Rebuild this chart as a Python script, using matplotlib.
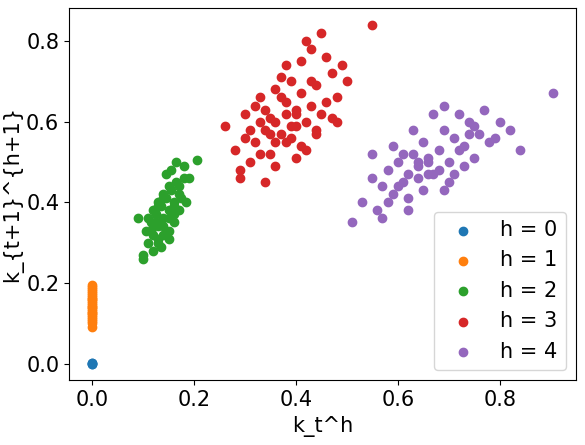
import matplotlib
matplotlib.use("Agg")
import matplotlib.pyplot as plt

x0 = [0.0, 0.0, 0.0, 0.0]
y0 = [0.0, 0.001, 0.002, 0.0]

x1 = [0.0]*24
y1 = [0.09, 0.10, 0.105, 0.11, 0.115, 0.12, 0.125, 0.13, 0.135, 0.14, 0.145, 0.15,
      0.155, 0.16, 0.165, 0.17, 0.175, 0.18, 0.185, 0.19, 0.195, 0.125, 0.14, 0.16]

x2 = [0.10, 0.11, 0.105, 0.12, 0.115, 0.13, 0.125, 0.14, 0.135, 0.15, 0.145, 0.16, 0.155, 0.17,
      0.165, 0.18, 0.12, 0.13, 0.14, 0.15, 0.16, 0.17, 0.13, 0.14, 0.15, 0.11, 0.12, 0.13, 0.14,
      0.15, 0.16, 0.17, 0.18, 0.205, 0.09, 0.10, 0.125, 0.145, 0.155, 0.165, 0.175, 0.135, 0.115,
      0.16, 0.15, 0.14, 0.13, 0.12, 0.19, 0.185]
y2 = [0.27, 0.30, 0.33, 0.32, 0.35, 0.34, 0.37, 0.36, 0.39, 0.38, 0.41, 0.40, 0.43, 0.42,
      0.45, 0.46, 0.28, 0.30, 0.32, 0.33, 0.35, 0.38, 0.40, 0.42, 0.44, 0.36, 0.38, 0.31, 0.34,
      0.36, 0.39, 0.44, 0.49, 0.505, 0.36, 0.26, 0.35, 0.47, 0.48, 0.50, 0.41, 0.29, 0.33,
      0.37, 0.31, 0.41, 0.39, 0.34, 0.46, 0.40]

x3 = [0.26, 0.28, 0.29, 0.30, 0.31, 0.32, 0.33, 0.34, 0.35, 0.36, 0.37, 0.38, 0.39, 0.40, 0.41,
      0.42, 0.43, 0.44, 0.45, 0.46, 0.47, 0.48, 0.49, 0.50, 0.55, 0.32, 0.34, 0.36, 0.38, 0.40,
      0.42, 0.44, 0.35, 0.37, 0.39, 0.41, 0.43, 0.30, 0.33, 0.36, 0.40, 0.45, 0.38, 0.42, 0.47,
      0.29, 0.31, 0.34, 0.37, 0.39, 0.41, 0.43, 0.46, 0.48, 0.36, 0.33, 0.44, 0.40, 0.38, 0.35]
y3 = [0.59, 0.53, 0.46, 0.62, 0.50, 0.55, 0.60, 0.45, 0.52, 0.68, 0.57, 0.65, 0.70, 0.63, 0.75,
      0.60, 0.78, 0.69, 0.82, 0.65, 0.72, 0.66, 0.74, 0.70, 0.84, 0.64, 0.58, 0.55, 0.62, 0.59,
      0.53, 0.57, 0.61, 0.66, 0.59, 0.67, 0.64, 0.56, 0.52, 0.49, 0.51, 0.62, 0.74, 0.80, 0.61,
      0.48, 0.58, 0.63, 0.71, 0.56, 0.54, 0.70, 0.76, 0.60, 0.60, 0.66, 0.58, 0.62, 0.55, 0.57]

x4 = [0.51, 0.53, 0.55, 0.56, 0.57, 0.58, 0.59, 0.60, 0.61, 0.62, 0.63, 0.64, 0.65, 0.66, 0.67,
      0.68, 0.69, 0.70, 0.71, 0.72, 0.73, 0.74, 0.75, 0.76, 0.78, 0.80, 0.82, 0.84, 0.905, 0.57,
      0.60, 0.62, 0.64, 0.66, 0.68, 0.70, 0.72, 0.74, 0.63, 0.65, 0.67, 0.69, 0.61, 0.59, 0.71,
      0.73, 0.55, 0.77, 0.79, 0.62, 0.58, 0.66, 0.69, 0.75, 0.64]
y4 = [0.35, 0.40, 0.46, 0.38, 0.44, 0.48, 0.42, 0.50, 0.45, 0.47, 0.52, 0.49, 0.55, 0.51, 0.47,
      0.53, 0.58, 0.50, 0.56, 0.62, 0.54, 0.60, 0.51, 0.57, 0.55, 0.60, 0.58, 0.53, 0.67, 0.36,
      0.44, 0.41, 0.46, 0.50, 0.48, 0.45, 0.53, 0.57, 0.58, 0.43, 0.62, 0.64, 0.52, 0.54, 0.47,
      0.49, 0.52, 0.63, 0.56, 0.38, 0.40, 0.47, 0.43, 0.59, 0.50]

xs = [x0, x1, x2, x3, x4]
ys = [y0, y1, y2, y3, y4]
labels = ["h = 0", "h = 1", "h = 2", "h = 3", "h = 4"]

plt.rcParams['font.size'] = 15
fig, ax = plt.subplots(figsize=(5.85, 4.45), dpi=100)
for x, y, lab in zip(xs, ys, labels):
    ax.scatter(x, y, label=lab)
ax.set_xlabel("k_t^h")
ax.set_ylabel("k_{t+1}^{h+1}", labelpad=2)
ax.legend(loc="lower right")
fig.subplots_adjust(left=0.118, right=0.985, bottom=0.145, top=0.982)
fig.savefig("out.png")
